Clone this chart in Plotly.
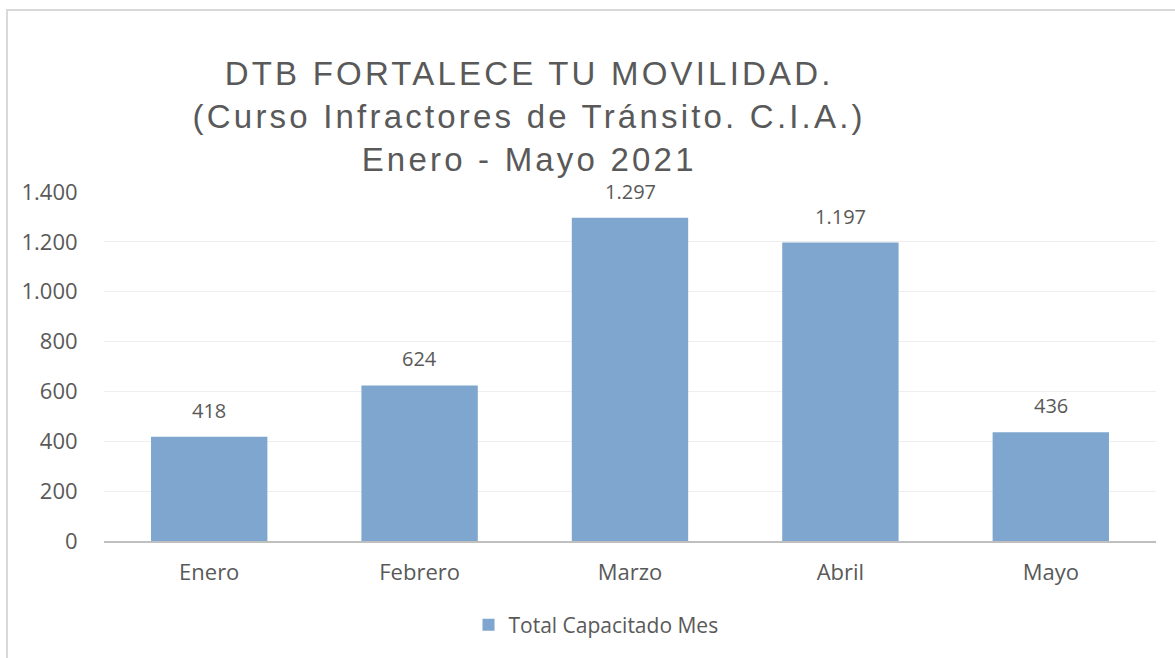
import plotly.graph_objects as go

meses = ["Enero", "Febrero", "Marzo", "Abril", "Mayo"]
capacitados = [418, 624, 1297, 1197, 436]
etiquetas = ["418", "624", "1.297", "1.197", "436"]
serie = "Total Capacitado Mes"
titulo = "DTB FORTALECE TU MOVILIDAD.<br>(Curso Infractores de Tránsito. C.I.A.)<br>Enero - Mayo 2021"

W, H = 1175, 658
L, R, T, B = 104, 19, 192, 117
pw, ph = W - L - R, H - T - B

bar_color = "rgb(127,166,206)"
txt = "#595959"
tick_font = dict(family="Open Sans, sans-serif", size=22, color=txt)
label_font = dict(family="Open Sans, sans-serif", size=20, color=txt)
legend_font = dict(family="Open Sans, sans-serif", size=21, color=txt)

fig = go.Figure()
fig.add_trace(go.Bar(
    x=meses, y=capacitados, name=serie,
    marker=dict(color=bar_color, line=dict(width=0)),
    hoverinfo="x+y",
))

for m, v, t in zip(meses, capacitados, etiquetas):
    fig.add_annotation(x=m, y=v, text=t, showarrow=False, yanchor="bottom",
                       yshift=11, font=label_font)

def px_x(p):
    return (p - L) / pw

def px_y(p):
    return (H - B - p) / ph

# outer chart frame
fig.add_shape(type="rect", xref="paper", yref="paper",
              x0=px_x(7), x1=px_x(1200), y0=px_y(10), y1=px_y(700),
              line=dict(color="#D9D9D9", width=2), layer="below")

fig.add_annotation(text=titulo, xref="paper", yref="paper",
                   x=px_x(529), y=px_y(53), xanchor="center", yanchor="top",
                   showarrow=False, align="center", name="titulo",
                   font=dict(family="Liberation Sans, Arial, sans-serif", size=33, color=txt))

fig.update_layout(
    width=W, height=H,
    margin=dict(l=L, r=R, t=T, b=B, pad=0),
    paper_bgcolor="white", plot_bgcolor="white",
    separators=",.",
    bargap=0.447,
    showlegend=True,
    legend=dict(orientation="h", x=px_x(596), xanchor="center",
                y=px_y(625), yanchor="middle",
                font=legend_font, itemwidth=30),
    yaxis=dict(range=[0, 1400], dtick=200, tickformat=",d",
               showgrid=True, gridcolor="#EEEEEE", gridwidth=1,
               zeroline=False, showline=False,
               ticks="outside", ticklen=21, tickcolor="rgba(0,0,0,0)",
               tickfont=tick_font),
    xaxis=dict(showline=True, linecolor="#BFBFBF", linewidth=2,
               ticks="outside", ticklen=11, tickcolor="rgba(0,0,0,0)",
               tickfont=tick_font, range=[-0.5, 4.5]),
)

post = """
document.body.style.margin='0';
var anns = document.querySelectorAll('.annotation-text');
anns.forEach(function(e){ if (e.textContent.indexOf('DTB') === 0) { e.style.letterSpacing='3.2px'; } });
"""
fig.write_html("out.html", post_script=post, config={"displayModeBar": False})
